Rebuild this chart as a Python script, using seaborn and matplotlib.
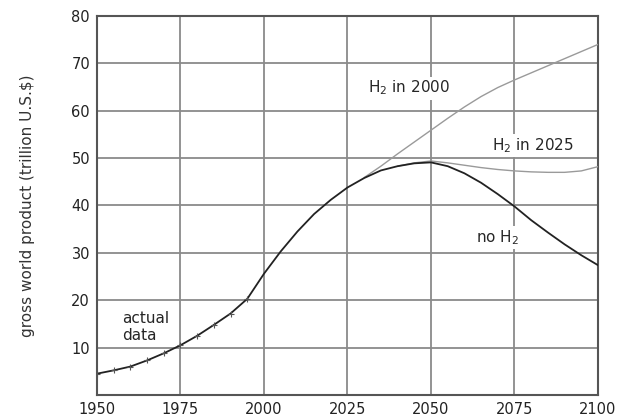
import matplotlib
matplotlib.use("Agg")
import matplotlib.pyplot as plt
import seaborn as sns
import pandas as pd

years_main = [1950, 1955, 1960, 1965, 1970, 1975, 1980, 1985, 1990, 1995, 2000, 2005, 2010,
              2015, 2020, 2025, 2030, 2035, 2040, 2045, 2050, 2055, 2060, 2065, 2070, 2075,
              2080, 2085, 2090, 2095, 2100]
gwp_no_h2 = [4.5, 5.2, 6.0, 7.3, 8.8, 10.5, 12.5, 14.8, 17.2, 20.3, 25.6, 30.3, 34.5, 38.2,
             41.2, 43.8, 45.8, 47.4, 48.3, 48.9, 49.1, 48.3, 46.8, 44.8, 42.4, 39.8, 36.9,
             34.3, 31.8, 29.5, 27.4]

years_h2000 = [2030, 2035, 2040, 2045, 2050, 2055, 2060, 2065, 2070, 2075, 2080, 2085, 2090, 2095, 2100]
gwp_h2000 = [45.9, 48.3, 50.9, 53.4, 55.9, 58.4, 60.8, 63.0, 64.9, 66.5, 68.0, 69.5, 71.0, 72.5, 74.0]

years_h2025 = [2040, 2045, 2050, 2055, 2060, 2065, 2070, 2075, 2080, 2085, 2090, 2095, 2100]
gwp_h2025 = [48.3, 49.0, 49.4, 49.0, 48.5, 48.0, 47.6, 47.3, 47.1, 47.0, 47.0, 47.3, 48.2]

actual_years = [1950, 1955, 1960, 1965, 1970, 1975, 1980, 1985, 1990, 1995]
actual_gwp = [4.5, 5.2, 6.0, 7.3, 8.8, 10.5, 12.5, 14.8, 17.2, 20.3]

x_ticks = [1950, 1975, 2000, 2025, 2050, 2075, 2100]
y_ticks = [10, 20, 30, 40, 50, 60, 70, 80]

sns.set_theme(style="white")
plt.rcParams['font.family'] = ['DejaVu Sans']

fig = plt.figure(figsize=(6.31, 4.17), dpi=100)
ax = fig.add_axes([0.1537, 0.0528, 0.7940, 0.9088])

df_main = pd.DataFrame({"year": years_main, "gwp": gwp_no_h2})
df_h2000 = pd.DataFrame({"year": years_h2000, "gwp": gwp_h2000})
df_h2025 = pd.DataFrame({"year": years_h2025, "gwp": gwp_h2025})
df_act = pd.DataFrame({"year": actual_years, "gwp": actual_gwp})

sns.lineplot(data=df_h2000, x="year", y="gwp", ax=ax, color="#9a9a9a", linewidth=1.0, zorder=3)
sns.lineplot(data=df_h2025, x="year", y="gwp", ax=ax, color="#9a9a9a", linewidth=1.0, zorder=3)
sns.lineplot(data=df_main, x="year", y="gwp", ax=ax, color="#222222", linewidth=1.3, zorder=4)
sns.scatterplot(data=df_act, x="year", y="gwp", ax=ax, marker="+", color="#555555", s=25,
                linewidth=0.8, zorder=5)

ax.set_xlim(1950, 2100)
ax.set_ylim(0, 80)
ax.set_xticks(x_ticks)
ax.set_yticks(y_ticks)
ax.tick_params(axis="both", labelsize=10.5, colors="#222222", length=0, pad=5)
ax.set_xlabel("")
ax.set_ylabel("gross world product (trillion U.S.$)", fontsize=11, color="#333333", labelpad=26)
ax.grid(True, color="#8a8a8a", linewidth=1.3)
ax.set_axisbelow(True)
for s in ax.spines.values():
    s.set_color("#555555")
    s.set_linewidth(1.5)

bbox = dict(facecolor="white", edgecolor="none", pad=1.5)
ax.text(2043.5, 64.8, "H$_2$ in 2000", fontsize=11, ha="center", va="center", bbox=bbox, zorder=6)
ax.text(2080.5, 52.6, "H$_2$ in 2025", fontsize=11, ha="center", va="center", bbox=bbox, zorder=6)
ax.text(2070, 33.3, "no H$_2$", fontsize=11, ha="center", va="center", bbox=bbox, zorder=6)
ax.text(1957.5, 14.3, "actual\ndata", fontsize=11, ha="left", va="center", linespacing=1.2, zorder=6)

fig.savefig("out.png", dpi=100)
